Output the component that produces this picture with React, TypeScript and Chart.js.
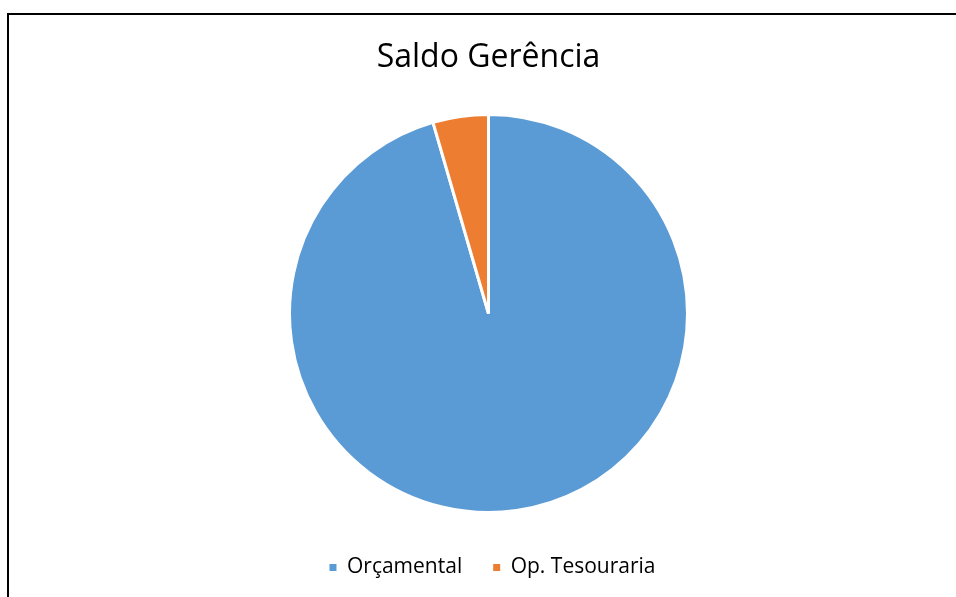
import React, { useEffect, useRef } from "react";
import { Chart, registerables } from "chart.js";

Chart.register(...registerables);

const categories = ["Orçamental", "Op. Tesouraria"];
const values = [95.5, 4.5];
const colors = ["#5B9BD5", "#ED7D31"];
const titleText = "Saldo Gerência";

const legendShift = {
  id: "legendShift",
  afterLayout(chart: any) {
    if (chart.legend) {
      chart.legend.left += 4;
      chart.legend.right += 4;
    }
  },
};

export default function App() {
  const ref = useRef<HTMLCanvasElement | null>(null);

  useEffect(() => {
    if (!ref.current) return;
    const chart = new Chart(ref.current, {
      type: "pie",
      data: {
        labels: categories,
        datasets: [
          {
            data: values,
            backgroundColor: colors,
            borderColor: "#ffffff",
            borderWidth: 3,
          },
        ],
      },
      plugins: [legendShift],
      options: {
        responsive: false,
        animation: false,
        layout: { padding: { top: 0, bottom: 9, left: 0, right: 0 } },
        plugins: {
          title: {
            display: true,
            text: titleText,
            color: "#000000",
            font: { family: "'Open Sans'", size: 32, weight: "normal" },
            padding: { top: 24, bottom: 23.6 },
          },
          legend: {
            display: true,
            position: "bottom",
            labels: {
              color: "#000000",
              font: { family: "'Open Sans'", size: 21 },
              boxWidth: 7,
              boxHeight: 7,
              padding: 31,
              generateLabels: (c: any) =>
                categories.map((label, i) => ({
                  text: label,
                  fillStyle: colors[i],
                  strokeStyle: colors[i],
                  lineWidth: 0,
                  hidden: false,
                  index: i,
                })),
            },
          },
          tooltip: { enabled: false },
        },
      },
    });
    return () => chart.destroy();
  }, []);

  return (
    <div
      style={{
        position: "fixed",
        left: 0,
        top: 0,
        width: 956,
        height: 597,
        overflow: "hidden",
        background: "#ffffff",
      }}
    >
      <div
        style={{
          position: "absolute",
          left: 7,
          top: 13,
          width: 2000,
          height: 2000,
          borderLeft: "2px solid #000",
          borderTop: "2px solid #000",
        }}
      />
      <canvas
        ref={ref}
        width={401}
        height={582}
        style={{ position: "absolute", left: 288, top: 15, width: 401, height: 582 }}
      />
    </div>
  );
}
